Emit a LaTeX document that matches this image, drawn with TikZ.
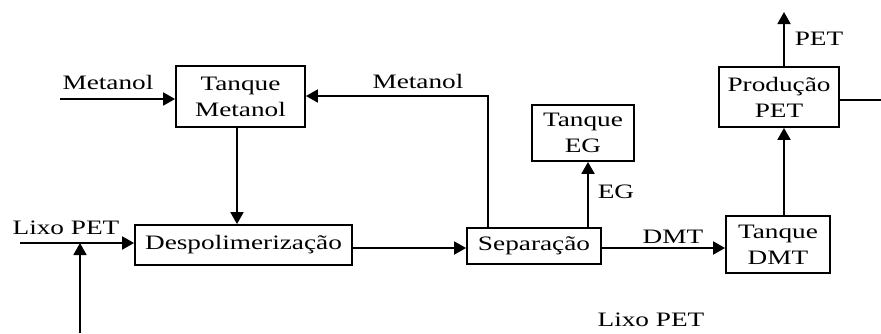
\documentclass[tikz,border=0pt]{standalone}
\usepackage{fontspec}
\setmainfont[FakeStretch=1.33]{Liberation Serif}
\usetikzlibrary{arrows.meta}
\begin{document}
\begin{tikzpicture}[x=1pt,y=-1pt,
  line width=1.8pt,
  flow/.style={-{Triangle[length=12pt,width=13pt]}},
  unit/.style={draw,align=center,inner sep=0pt,font=\fontsize{20.5}{26}\selectfont},
  lbl/.style={anchor=base,inner sep=0pt,font=\fontsize{20.5}{26}\selectfont}]
\useasboundingbox (0,0) rectangle (881,333);

% process units
\node[unit,minimum width=129pt,minimum height=61pt] (tm)   at (240.5,96.5) {Tanque\\Metanol};
\node[unit,minimum width=217pt,minimum height=40pt] (dp)   at (243.5,245)  {Despolimerização};
\node[unit,minimum width=134pt,minimum height=36pt] (sp)   at (534,246)    {Separação};
\node[unit,minimum width=102pt,minimum height=56pt] (teg)  at (583,133)    {Tanque\\EG};
\node[unit,minimum width=104pt,minimum height=57pt] (tdmt) at (778,244.5)  {Tanque\\DMT};
\node[unit,minimum width=120pt,minimum height=60pt] (pp)   at (779,97)     {Produção\\PET};

% stream labels
\node[lbl] (l1) at (108,89)  {Metanol};
\node[lbl] (l2) at (66,234)  {Lixo PET};
\node[lbl] (l3) at (418,88)  {Metanol};
\node[lbl] (l4) at (616,198) {EG};
\node[lbl] (l5) at (673,243) {DMT};
\node[lbl] (l6) at (819,45)  {PET};
\node[lbl] (l7) at (651,326) {Lixo PET};

% free ends of the streams
\coordinate (m0) at (60,99);
\coordinate (w0) at (20,243);
\coordinate (w1) at (80,333);
\coordinate (w2) at (80,243);
\coordinate (r1) at (488,96);
\coordinate (e1) at (588,200);
\coordinate (p1) at (784,12);
\coordinate (p2) at (784,200);
\coordinate (o1) at (881,100);

% streams
\draw[flow] (m0) -- (tm.west|-m0);
\draw[flow] (tm.south-|237,0) -- (dp.north-|237,0);
\draw[flow] (w0) -- (dp.west|-w0);
\draw[flow] (w1) -- (w2);
\draw[flow] (dp.east|-0,248) -- (sp.west|-0,248);
\draw[flow] (sp.north-|r1) -- (r1) -- (tm.east|-r1);
\draw[flow] (sp.north-|e1) -- (teg.south-|e1);
\draw[flow] (sp.east|-0,248) -- (tdmt.west|-0,248);
\draw[flow] (tdmt.north-|p2) -- (pp.south-|p2);
\draw[flow] (pp.north-|p1) -- (p1);
\draw (pp.east|-o1) -- (o1);
\end{tikzpicture}
\end{document}
